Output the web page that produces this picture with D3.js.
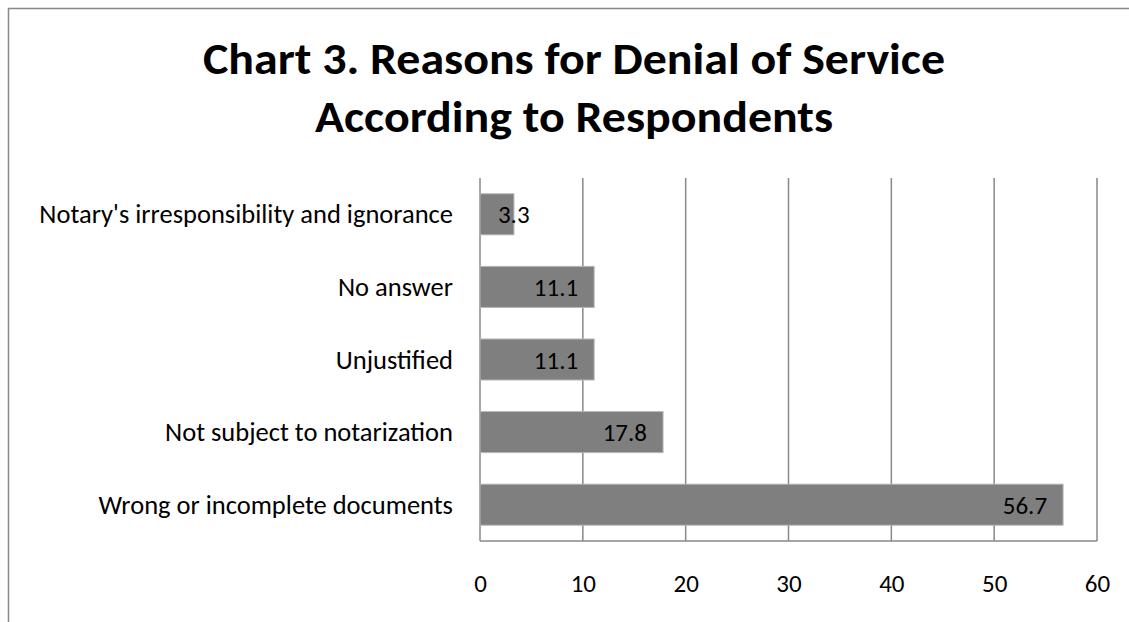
<!DOCTYPE html>
<html>
<head>
<meta charset="utf-8">
<script src="https://cdn.jsdelivr.net/npm/d3@7"></script>
<style>
  html, body { margin: 0; padding: 0; background: #fff; }
  svg { display: block; }
  text { font-family: Calibri, Carlito, Lato, "Open Sans", sans-serif; fill: #000; }
</style>
</head>
<body>
<svg id="chart" width="1129" height="622"></svg>
<script>
// Reasons for denial of service, percent of respondents (top to bottom)
const categories = [
  "Notary's irresponsibility and ignorance",
  "No answer",
  "Unjustified",
  "Not subject to notarization",
  "Wrong or incomplete documents"
];
const values = [3.3, 11.1, 11.1, 17.8, 56.7];
const tickValues = [0, 10, 20, 30, 40, 50, 60];
const titleLines = ["Chart 3. Reasons for Denial of Service", "According to Respondents"];

const W = 1129, H = 622;
const svg = d3.select("#chart");

// outer chart frame
svg.append("path")
  .attr("d", `M8.5,${H} L8.5,8.5 L${W},8.5`)
  .attr("fill", "none")
  .attr("stroke", "#888")
  .attr("stroke-width", 1.5);

// title
const titleBaselines = [74, 132];
const titleWidths = [742, 518];
titleLines.forEach((t, i) => {
  svg.append("text")
    .attr("x", 574)
    .attr("y", titleBaselines[i])
    .attr("text-anchor", "middle")
    .attr("font-size", 45)
    .attr("font-weight", "bold")
    .attr("textLength", titleWidths[i])
    .attr("lengthAdjust", "spacingAndGlyphs")
    .text(t);
});

const plot = { left: 480, right: 1097, top: 178, bottom: 541 };

const x = d3.scaleLinear().domain([0, 60]).range([plot.left, plot.right]);
const y = d3.scaleBand().domain(categories).range([plot.top, plot.bottom]).paddingInner(0.435).paddingOuter(0.2175);

// vertical gridlines
svg.append("g")
  .selectAll("line")
  .data(tickValues)
  .join("line")
  .attr("x1", d => x(d))
  .attr("x2", d => x(d))
  .attr("y1", plot.top)
  .attr("y2", plot.bottom)
  .attr("stroke", "#888")
  .attr("stroke-width", 1.5);

// bars
svg.append("g")
  .selectAll("rect")
  .data(values)
  .join("rect")
  .attr("x", x(0))
  .attr("y", (d, i) => y(categories[i]))
  .attr("width", d => x(d) - x(0))
  .attr("height", y.bandwidth())
  .attr("fill", "#7f7f7f")
  .attr("stroke", "#b5b5b5")
  .attr("stroke-width", 1);

// bottom axis line
svg.append("line")
  .attr("x1", plot.left).attr("x2", plot.right)
  .attr("y1", plot.bottom).attr("y2", plot.bottom)
  .attr("stroke", "#888").attr("stroke-width", 1.5);

// x axis tick labels
const xAxis = d3.axisBottom(x).tickValues(tickValues).tickSize(0).tickPadding(0).tickFormat(d3.format("d"));
const gx = svg.append("g").attr("transform", `translate(0,${plot.bottom})`).call(xAxis);
gx.select(".domain").remove();
gx.selectAll("text")
  .attr("y", 51)
  .attr("dy", null)
  .attr("font-size", 25)
  .style("font-family", "Calibri, Carlito, Lato, 'Open Sans', sans-serif")
  .attr("fill", "#000");

// category labels
svg.append("g")
  .selectAll("text")
  .data(categories)
  .join("text")
  .attr("x", 453)
  .attr("y", d => y(d) + y.bandwidth() / 2 + 9)
  .attr("text-anchor", "end")
  .attr("font-size", 26.5)
  .text(d => d);

// value labels at the inside end of each bar
const labels = svg.append("g")
  .selectAll("text")
  .data(values)
  .join("text")
  .attr("y", (d, i) => y(categories[i]) + y.bandwidth() / 2 + 9)
  .attr("font-size", 25)
  .text(d => d3.format(".1f")(d));

labels.each(function(d) {
  const w = this.getComputedTextLength();
  const barW = x(d) - x(0);
  const sel = d3.select(this).attr("x", x(d) - 16);
  // labels too wide for their bar start at the same inset instead of ending there
  sel.attr("text-anchor", w + 32 > barW ? "start" : "end");
});
</script>
</body>
</html>
